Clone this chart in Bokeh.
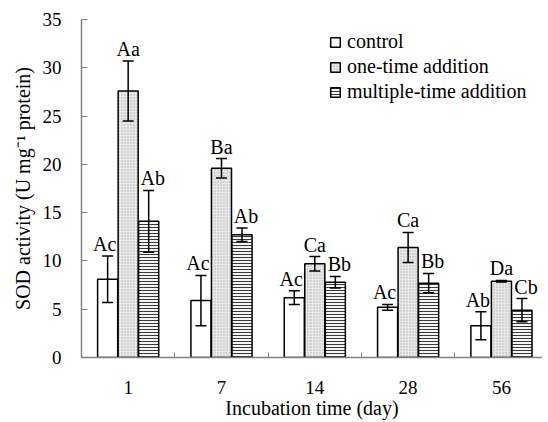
import numpy as np
from bokeh.plotting import figure
from bokeh.models import (ColumnDataSource, Range1d, FixedTicker, Whisker, TeeHead,
                          Legend, LegendItem, LabelSet)
from bokeh.core.properties import value
from bokeh.embed import file_html
from bokeh.resources import INLINE

# ---- data ----
days = ["1", "7", "14", "28", "56"]
series_names = ["control", "one-time addition", "multiple-time addition"]
control = [8.1, 5.9, 6.2, 5.2, 3.3]
control_sd = [2.4, 2.6, 0.7, 0.3, 1.45]
one_time = [27.6, 19.6, 9.7, 11.4, 7.9]
one_time_sd = [3.1, 1.0, 0.75, 1.55, 0.08]
multiple = [14.1, 12.7, 7.8, 7.7, 4.9]
multiple_sd = [3.2, 0.7, 0.6, 1.0, 1.2]
control_sig = ["Ac", "Ac", "Ac", "Ac", "Ab"]
one_time_sig = ["Aa", "Ba", "Ca", "Ca", "Da"]
multiple_sig = ["Ab", "Ab", "Bb", "Bb", "Cb"]

FONT = "Liberation Serif"

p = figure(width=542, height=421, output_backend="svg", toolbar_location=None,
           x_range=Range1d(0, 4.94), y_range=Range1d(0, 35),
           min_border_left=81, min_border_top=19, min_border_right=0, min_border_bottom=10)
p.outline_line_color = None
p.xgrid.grid_line_color = None
p.ygrid.grid_line_color = None
p.background_fill_color = "white"
p.border_fill_color = "white"

centers = np.arange(len(days)) + 0.5
offsets = [-0.22, 0.0, 0.22]
bw = 0.215

styles = [
    dict(fill_color="white"),
    dict(fill_color="#e8e8e8", hatch_pattern="dot", hatch_color="#b4b4b4", hatch_scale=3, hatch_weight=0.5),
    dict(fill_color="#f4f4f4", hatch_pattern="horizontal_line", hatch_color="#3a3a3a", hatch_scale=3, hatch_weight=1),
]
label_dx = [-3, 0, 4]

means = [control, one_time, multiple]
sds = [control_sd, one_time_sd, multiple_sd]
sigs = [control_sig, one_time_sig, multiple_sig]

items = []
for k in range(3):
    m = np.array(means[k]); s = np.array(sds[k])
    src = ColumnDataSource(dict(x=centers + offsets[k], top=m, up=m + s, lo=m - s, sig=sigs[k]))
    r = p.vbar(x="x", top="top", width=bw, bottom=0, source=src,
               line_color="black", line_width=1.5, **styles[k])
    items.append(LegendItem(label=series_names[k], renderers=[r]))
    w = Whisker(base="x", upper="up", lower="lo", source=src, line_color="black", line_width=1.5,
                upper_head=TeeHead(size=11, line_color="black", line_width=1.5),
                lower_head=TeeHead(size=11, line_color="black", line_width=1.5),
                level="overlay")
    p.add_layout(w)
    lab = LabelSet(x="x", y="up", text="sig", source=src, text_align="center",
                   text_baseline="alphabetic", y_offset=5, x_offset=label_dx[k],
                   text_font=value(FONT), text_font_size="20px", text_color="black")
    p.add_layout(lab)

# axes
xa = p.xaxis[0]
xa.ticker = FixedTicker(ticks=list(centers), minor_ticks=[1, 2, 3, 4])
xa.major_label_overrides = {float(c): d for c, d in zip(centers, days)}
xa.major_tick_in = 0
xa.major_tick_out = 0
xa.minor_tick_in = 5
xa.minor_tick_out = 0
xa.minor_tick_line_color = "#808080"
xa.axis_line_color = "#808080"
xa.axis_line_width = 1.5
xa.major_label_standoff = 23
xa.major_label_text_font = FONT
xa.major_label_text_font_size = "19px"
xa.major_label_text_color = "black"
xa.axis_label = "Incubation time (day)"
xa.axis_label_text_font = FONT
xa.axis_label_text_font_size = "20px"
xa.axis_label_text_font_style = "normal"
xa.axis_label_text_color = "black"
xa.axis_label_standoff = 0

ya = p.yaxis[0]
ya.ticker = FixedTicker(ticks=[0, 5, 10, 15, 20, 25, 30, 35])
ya.minor_tick_line_color = None
ya.major_tick_in = 6
ya.major_tick_out = 0
ya.major_tick_line_color = "#808080"
ya.axis_line_color = "#808080"
ya.axis_line_width = 1.5
ya.major_label_standoff = 20
ya.major_label_text_font = FONT
ya.major_label_text_font_size = "19px"
ya.major_label_text_color = "black"
ya.axis_label = "SOD activity (U mg\u207b\u00b9 protein)"
ya.axis_label_text_font = FONT
ya.axis_label_text_font_size = "20px"
ya.axis_label_text_font_style = "normal"
ya.axis_label_text_color = "black"
ya.axis_label_standoff = 6

legend = Legend(items=items, location=(248, 254), orientation="vertical",
                glyph_width=12, glyph_height=12, label_height=18, label_standoff=6,
                spacing=2, padding=0, margin=0,
                label_text_font=FONT, label_text_font_size="20px", label_text_color="black",
                border_line_color=None, background_fill_alpha=0)
p.add_layout(legend)

open("out.html", "w").write(file_html(p, INLINE))
